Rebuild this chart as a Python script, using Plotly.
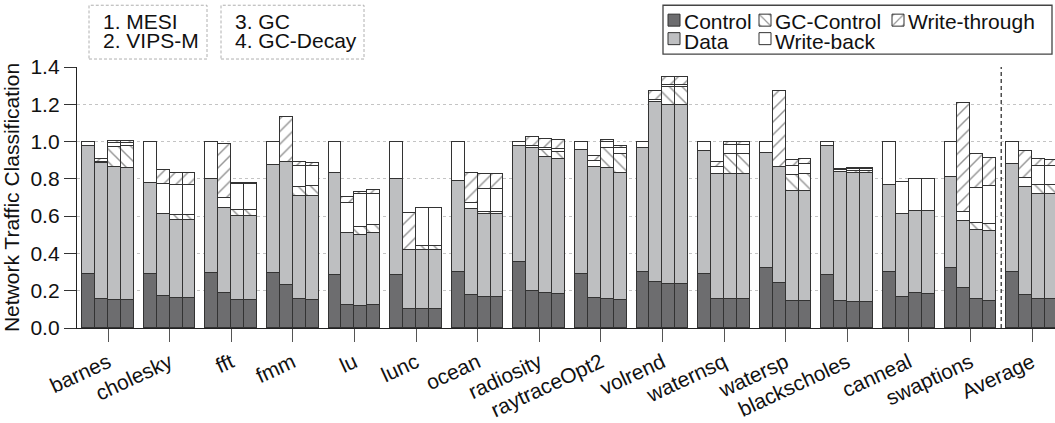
import plotly.graph_objects as go

# Benchmarks on the x axis and the four coherence configurations per group
benchmarks = ["barnes", "cholesky", "fft", "fmm", "lu", "lunc", "ocean", "radiosity",
              "raytraceOpt2", "volrend", "waternsq", "watersp", "blackscholes",
              "canneal", "swaptions", "Average"]
configs = ["MESI", "VIPS-M", "GC", "GC-Decay"]

# Traffic components, one row per benchmark, one column per configuration
control = [
    [0.290, 0.156, 0.149, 0.149],
    [0.290, 0.172, 0.162, 0.162],
    [0.293, 0.190, 0.149, 0.149],
    [0.297, 0.229, 0.155, 0.151],
    [0.284, 0.124, 0.119, 0.121],
    [0.284, 0.101, 0.101, 0.101],
    [0.302, 0.178, 0.167, 0.167],
    [0.352, 0.199, 0.187, 0.183],
    [0.290, 0.160, 0.155, 0.149],
    [0.299, 0.245, 0.236, 0.236],
    [0.288, 0.156, 0.155, 0.155],
    [0.322, 0.240, 0.146, 0.146],
    [0.284, 0.144, 0.140, 0.140],
    [0.300, 0.165, 0.187, 0.185],
    [0.320, 0.215, 0.155, 0.144],
    [0.300, 0.178, 0.158, 0.158],
]
data = [
    [0.685, 0.729, 0.713, 0.709],
    [0.490, 0.439, 0.419, 0.419],
    [0.507, 0.455, 0.453, 0.453],
    [0.577, 0.659, 0.554, 0.558],
    [0.546, 0.386, 0.382, 0.389],
    [0.514, 0.315, 0.315, 0.315],
    [0.485, 0.462, 0.442, 0.442],
    [0.622, 0.766, 0.728, 0.721],
    [0.666, 0.702, 0.703, 0.681],
    [0.669, 0.969, 0.960, 0.960],
    [0.659, 0.670, 0.671, 0.671],
    [0.616, 0.625, 0.588, 0.588],
    [0.693, 0.695, 0.693, 0.693],
    [0.466, 0.444, 0.439, 0.441],
    [0.492, 0.361, 0.369, 0.377],
    [0.580, 0.579, 0.562, 0.562],
]
gc_control = [
    [0, 0, 0.108, 0.117],
    [0, 0, 0.025, 0.025],
    [0, 0, 0.031, 0.031],
    [0, 0, 0.050, 0.053],
    [0, 0, 0.041, 0.044],
    [0, 0, 0.026, 0.026],
    [0, 0, 0.013, 0.013],
    [0, 0, 0.039, 0.038],
    [0, 0, 0.110, 0.103],
    [0, 0, 0.096, 0.096],
    [0, 0, 0.110, 0.110],
    [0, 0, 0.089, 0.094],
    [0, 0, 0.011, 0.011],
    [0, 0, 0, 0],
    [0, 0, 0.041, 0.035],
    [0, 0, 0.049, 0.049],
]
write_back = [
    [0.025, 0.005, 0.020, 0.018],
    [0.220, 0.160, 0.162, 0.162],
    [0.200, 0.053, 0.142, 0.142],
    [0.126, 0.005, 0.110, 0.107],
    [0.170, 0.162, 0.179, 0.167],
    [0.202, 0, 0.201, 0.201],
    [0.213, 0.032, 0.121, 0.121],
    [0.026, 0.009, 0.014, 0.017],
    [0.044, 0.032, 0.029, 0.032],
    [0.032, 0.010, 0.010, 0.010],
    [0.053, 0.036, 0.047, 0.047],
    [0.062, 0, 0.048, 0.052],
    [0.023, 0.006, 0.011, 0.011],
    [0.234, 0.174, 0.172, 0.172],
    [0.188, 0.046, 0.186, 0.206],
    [0.120, 0.048, 0.100, 0.100],
]
write_through = [
    [0, 0.018, 0.012, 0.009],
    [0, 0.077, 0.065, 0.065],
    [0, 0.288, 0.003, 0.003],
    [0, 0.237, 0.019, 0.018],
    [0, 0.033, 0.011, 0.020],
    [0, 0.201, 0.002, 0.002],
    [0, 0.160, 0.083, 0.083],
    [0, 0.051, 0.048, 0.047],
    [0, 0.028, 0.012, 0.010],
    [0, 0.045, 0.045, 0.045],
    [0, 0.030, 0.014, 0.014],
    [0, 0.407, 0.030, 0.028],
    [0, 0.010, 0.005, 0.005],
    [0, 0.002, 0.002, 0.002],
    [0, 0.584, 0.182, 0.149],
    [0, 0.146, 0.035, 0.031],
]

FONT = "Liberation Sans, Arial, Helvetica, sans-serif"
W, H = 1055, 423
ML, MR, MT, MB = 77, 0, 66, 95
PW, PH = W - ML - MR, H - MT - MB
OUTLINE = "#333333"
HATCH = "#2a2a2a"
BAR_W = 0.21

# stacking order (bottom to top) with each component's fill style
components = [
    ("Control", control, dict(color="#6d6d6f")),
    ("Data", data, dict(color="#bebfc1")),
    ("GC-Control", gc_control, dict(color="white", pattern=dict(
        shape="\\", fgcolor=HATCH, bgcolor="white", size=9, solidity=0.16))),
    ("Write-back", write_back, dict(color="white")),
    ("Write-through", write_through, dict(color="white", pattern=dict(
        shape="/", fgcolor=HATCH, bgcolor="white", size=9, solidity=0.16))),
]

# bar centres: benchmark index plus the configuration's slot inside the group
xs = [i + (j - 1.5) * BAR_W for i in range(len(benchmarks)) for j in range(len(configs))]

fig = go.Figure()
for name, rows, style in components:
    ys = [v if v else None for row in rows for v in row]
    fig.add_trace(go.Bar(
        x=xs, y=ys, width=BAR_W, name=name, showlegend=False,
        marker=dict(line=dict(color=OUTLINE, width=1), **style),
        customdata=[f"{b} / {c}" for b in benchmarks for c in configs],
        hovertemplate="%{customdata}<br>" + name + ": %{y:.3f}<extra></extra>",
    ))


def px_x(p):
    return (p - ML) / PW


def px_y(p):
    return (MT + PH - p) / PH


# legend: swatches through plotly legends, labels as annotations
legend_items = [
    # name, swatch centre x, row centre y, label x
    ("Control", 674, 19, 682),
    ("GC-Control", 765, 19, 773),
    ("Write-through", 898, 19, 906),
    ("Data", 674, 39, 682),
    ("Write-back", 765, 39, 773),
]
style_by_name = {n: s for n, _, s in components}
layout_legends = {}
annotations = []
for k, (name, sx, sy, tx) in enumerate(legend_items):
    key = "legend" if k == 0 else f"legend{k + 1}"
    fig.add_trace(go.Bar(
        x=[None], y=[None], name="", legend=key, showlegend=True,
        marker=dict(line=dict(color=OUTLINE, width=1), **style_by_name[name]),
        hoverinfo="skip",
    ))
    layout_legends[key] = dict(
        x=px_x(sx - 20), y=px_y(sy), xanchor="left", yanchor="middle",
        bgcolor="rgba(0,0,0,0)", borderwidth=0, font=dict(size=21, family=FONT),
        itemclick=False, itemdoubleclick=False,
    )
    annotations.append(dict(
        x=px_x(tx), y=px_y(sy + 1), xref="paper", yref="paper", text=name,
        showarrow=False, xanchor="left", yanchor="middle",
        font=dict(size=21, family=FONT, color="#111111"),
    ))

# configuration key in the upper left
for text, tx, ty in [("1. MESI", 101, 20), ("2. VIPS-M", 101, 39),
                     ("3. GC", 233, 20), ("4. GC-Decay", 233, 39)]:
    annotations.append(dict(
        x=px_x(tx), y=px_y(ty), xref="paper", yref="paper", text=text,
        showarrow=False, xanchor="left", yanchor="middle",
        font=dict(size=21, family=FONT, color="#111111"),
    ))

shapes = [
    # separator before the Average group
    dict(type="line", xref="x", yref="y", x0=14.5, x1=14.5, y0=0, y1=1.4,
         line=dict(color="#222222", width=1.2, dash="4px,3px")),
    # dashed frames of the configuration key
    dict(type="rect", xref="paper", yref="paper",
         x0=px_x(89), x1=px_x(207), y0=px_y(58), y1=px_y(4),
         line=dict(color="#b0b0b0", width=1, dash="3px,2px")),
    dict(type="rect", xref="paper", yref="paper",
         x0=px_x(221), x1=px_x(364), y0=px_y(58), y1=px_y(4),
         line=dict(color="#b0b0b0", width=1, dash="3px,2px")),
    # legend frame
    dict(type="rect", xref="paper", yref="paper",
         x0=px_x(663), x1=px_x(1052), y0=px_y(53), y1=px_y(4),
         line=dict(color="#444444", width=1.3)),
]

x_lo = -31 / 61.6
x_hi = x_lo + PW / 61.6

fig.update_layout(
    width=W, height=H, margin=dict(l=ML, r=MR, t=MT, b=MB, pad=0),
    barmode="stack", bargap=0, plot_bgcolor="white", paper_bgcolor="white",
    font=dict(family=FONT, size=21, color="#111111"),
    annotations=annotations, shapes=shapes, **layout_legends,
)
fig.update_xaxes(
    range=[x_lo, x_hi], tickmode="array", tickvals=list(range(len(benchmarks))),
    ticktext=benchmarks, tickangle=-25, ticks="outside", ticklen=13,
    tickcolor="#555555", tickwidth=1.2, showgrid=False, zeroline=False,
    showline=True, linecolor="#222222", linewidth=1.3,
    tickfont=dict(size=21, family=FONT, color="#111111"),
)
fig.update_yaxes(
    range=[0, 1.4], dtick=0.2, tickformat=".1f", ticks="outside", ticklen=12,
    tickcolor="#333333", tickwidth=1.2, showline=True, linecolor="#222222",
    linewidth=1.3, showgrid=True, gridcolor="#c4c4c4", griddash="dot",
    gridwidth=1, zeroline=False,
    tickfont=dict(size=21, family=FONT, color="#111111"),
    title=dict(text="Network Traffic Classification", standoff=6,
               font=dict(size=21, family=FONT, color="#111111")),
)

fig.write_html("out.html")
